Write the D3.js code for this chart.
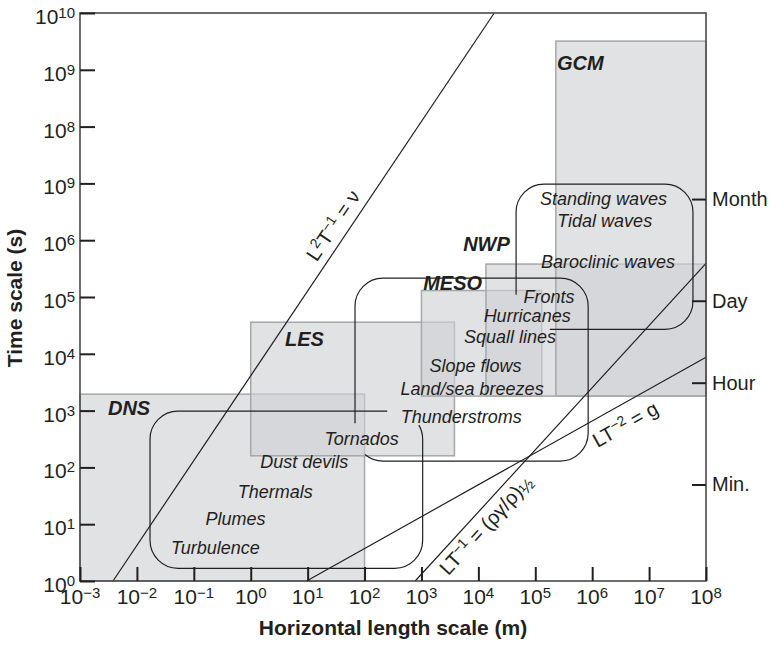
<!DOCTYPE html>
<html>
<head>
<meta charset="utf-8">
<script src="https://cdn.jsdelivr.net/npm/d3@7"></script>
<style>
body { margin: 0; background: #fff; }
text { font-family: "Liberation Sans", Arial, Helvetica, sans-serif; fill: #231f20; }
</style>
</head>
<body>
<svg width="772" height="646"></svg>
<script>
var svg = d3.select('svg');

// ---- axis ticks ----
var xTickValues = [1e-3, 1e-2, 1e-1, 1e0, 1e1, 1e2, 1e3, 1e4, 1e5, 1e6, 1e7, 1e8];
var xTickLabels = ["\u22123", "\u22122", "\u22121", "0", "1", "2", "3", "4", "5", "6", "7", "8"];
var yTickValues = [1e0, 1e1, 1e2, 1e3, 1e4, 1e5, 1e6, 1e7, 1e8, 1e9, 1e10];
// as printed in the figure (the 10^7 tick reads 10^9)
var yTickLabels = ["0", "1", "2", "3", "4", "5", "6", "9", "8", "9", "10"];

// right hand time marks, seconds
var timeMarks = ["Month", "Day", "Hour", "Min."];
var timeMarkSeconds = [5.3e6, 8.6e4, 3.1e3, 50];

// model domains
var models = ["DNS", "LES", "MESO", "NWP", "GCM"];
var modelL = [[1e-3, 1e2], [1, 3.8e3], [1e3, 1.3e5], [1.36e4, 1e8], [2.3e5, 1e8]];
var modelT = [[1, 1.95e3], [160, 3.6e4], [1.8e3, 1.3e5], [1.8e3, 3.8e5], [1.8e3, 3.2e9]];
var modelLabelL = [0.0031, 4.0, 1070, 5400, 2.4e5];
var modelLabelT = [830, 1.38e4, 1.32e5, 6.5e5, 1e9];

// phenomena
var phenomena = ["Turbulence", "Plumes", "Thermals", "Dust devils", "Tornados", "Thunderstroms",
  "Land/sea breezes", "Slope flows", "Squall lines", "Hurricanes", "Fronts",
  "Baroclinic waves", "Tidal waves", "Standing waves"];
var phenL = [0.24, 0.54, 2.7, 8.7, 89, 5000, 7760, 8900, 3.6e4, 7.2e4, 1.74e5, 1.9e6, 1.66e6, 1.58e6];
var phenT = [2.95, 9.5, 29, 98, 245, 617, 1860, 4790, 1.55e4, 3.6e4, 7.9e4, 3.2e5, 1.7e6, 4.2e6];

// envelopes around phenomena (small, meso, large)
var envL = [[0.017, 1050], [68, 8.5e5], [4.6e4, 5.9e7]];
var envT = [[1.67, 980], [129, 2.15e5], [2.7e4, 9.7e6]];
var envOpenL = [250, null, 1.8e5];
var envOpenT = [null, 600, 1.1e5];

// scaling relations
var relStartL = [0.0038, 776, 9.6];
var relStartT = [1, 1, 1];
var relEndL = [1.9e4, 1e8, 1e8];
var relEndT = [1e10, 3.9e5, 8700];
var relLabelL = [29, 1.39e4, 3.9e6];
var relLabelT = [1.78e6, 9.5, 555];
var relLabels = [
  [["L", 0], ["2", 1], ["T", 0], ["\u22121", 1], [" = \u03bd", 0]],
  [["LT", 0], ["\u22121", 1], [" = (\u03c1\u03b3/\u03c1)", 0], ["\u00bd", 2]],
  [["LT", 0], ["\u22122", 1], [" = g", 0]]
];

var margin = {left: 80, right: 66, top: 13, bottom: 65};
var W = 772, H = 646;
var x = d3.scaleLog().domain([1e-3, 1e8]).range([margin.left, W - margin.right]);
var y = d3.scaleLog().domain([1, 1e10]).range([H - margin.bottom, margin.top]);

// grey model boxes
svg.selectAll('rect.model')
  .data(models)
  .enter()
  .append('rect')
  .attr('class', 'model')
  .attr('x', function(d, i){ return x(modelL[i][0]); })
  .attr('y', function(d, i){ return y(modelT[i][1]); })
  .attr('width', function(d, i){ return x(modelL[i][1]) - x(modelL[i][0]); })
  .attr('height', function(d, i){ return y(modelT[i][0]) - y(modelT[i][1]); })
  .attr('fill', '#cfd0d3')
  .attr('fill-opacity', 0.62)
  .attr('stroke', '#a6a7a9')
  .attr('stroke-width', 1.5);

// scaling lines
svg.selectAll('line.rel')
  .data(relLabels)
  .enter()
  .append('line')
  .attr('x1', function(d, i){ return x(relStartL[i]); })
  .attr('y1', function(d, i){ return y(relStartT[i]); })
  .attr('x2', function(d, i){ return x(relEndL[i]); })
  .attr('y2', function(d, i){ return y(relEndT[i]); })
  .attr('stroke', '#231f20')
  .attr('stroke-width', 1.2);

// envelopes
var r = 28;
function envPath(i) {
  var x0 = x(envL[i][0]), x1 = x(envL[i][1]);
  var y0 = y(envT[i][1]), y1 = y(envT[i][0]);
  var p = d3.path();
  if (i == 0) {
    p.moveTo(x(envOpenL[i]), y0);
    p.arcTo(x0, y0, x0, y0 + r, r);
    p.arcTo(x0, y1, x0 + r, y1, r);
    p.arcTo(x1, y1, x1, y1 - r, r);
    p.lineTo(x1, y0 + r);
    p.arc(x1 - r, y0 + r, r, 0, -Math.PI / 6, true);
  } else if (i == 1) {
    p.moveTo(x0, y(envOpenT[i]));
    p.arcTo(x0, y0, x0 + r, y0, r);
    p.arcTo(x1, y0, x1, y0 + r, r);
    p.arcTo(x1, y1, x1 - r, y1, r);
    p.lineTo(x0 + r, y1);
    p.arc(x0 + r, y1 - r, r, Math.PI / 2, Math.PI / 2 + 0.7, false);
  } else {
    p.moveTo(x0, y(envOpenT[i]));
    p.arcTo(x0, y0, x0 + r, y0, r);
    p.arcTo(x1, y0, x1, y0 + r, r);
    p.arcTo(x1, y1, x1 - r, y1, r);
    p.lineTo(x(envOpenL[i]), y1);
  }
  return p.toString();
}

svg.selectAll('path.env')
  .data(envL)
  .enter()
  .append('path')
  .attr('class', 'env')
  .attr('d', function(d, i){ return envPath(i); })
  .attr('fill', 'none')
  .attr('stroke', '#231f20')
  .attr('stroke-width', 1.2);

// model labels
svg.selectAll('text.model')
  .data(models)
  .enter()
  .append('text')
  .attr('x', function(d, i){ return x(modelLabelL[i]); })
  .attr('y', function(d, i){ return y(modelLabelT[i]); })
  .attr('font-size', 20)
  .attr('font-weight', 'bold')
  .attr('font-style', 'italic')
  .text(function(d){ return d; });

// phenomena labels
svg.selectAll('text.phen')
  .data(phenomena)
  .enter()
  .append('text')
  .attr('x', function(d, i){ return x(phenL[i]); })
  .attr('y', function(d, i){ return y(phenT[i]); })
  .attr('text-anchor', 'middle')
  .attr('font-size', 18)
  .attr('font-style', 'italic')
  .text(function(d){ return d; });

// pieces: 0 normal, 1 superscript, 2 lowered half
function addParts(t, parts, size, supSize, up) {
  var shift = 0;
  parts.forEach(function(p){
    var target = p[1] == 1 ? -up : (p[1] == 2 ? 3 : 0);
    t.append('tspan')
      .attr('dy', target - shift)
      .attr('font-size', p[1] == 0 ? size : (p[1] == 2 ? size - 3 : supSize))
      .text(p[0]);
    shift = target;
  });
}

relLabels.forEach(function(parts, i){
  var ang = Math.atan2(y(relEndT[i]) - y(relStartT[i]), x(relEndL[i]) - x(relStartL[i])) * 180 / Math.PI;
  var cx = x(relLabelL[i]), cy = y(relLabelT[i]);
  var t = svg.append('text')
    .attr('text-anchor', 'middle')
    .attr('transform', 'translate(' + cx + ',' + cy + ') rotate(' + ang + ') translate(0,6)')
    .attr('font-size', 20);
  addParts(t, parts, 20, 14, 7);
});

// frame
svg.append('rect')
  .attr('x', x(1e-3))
  .attr('y', y(1e10))
  .attr('width', x(1e8) - x(1e-3))
  .attr('height', y(1) - y(1e10))
  .attr('fill', 'none')
  .attr('stroke', '#4a4a4a')
  .attr('stroke-width', 1.6);

// inward ticks
var gx = svg.append('g')
  .attr('transform', 'translate(0,' + y(1) + ')')
  .call(d3.axisBottom(x).tickValues(xTickValues).tickSize(-14).tickFormat(''));
var gy = svg.append('g')
  .attr('transform', 'translate(' + x(1e-3) + ',0)')
  .call(d3.axisLeft(y).tickValues(yTickValues).tickSize(-15).tickFormat(''));
var gr = svg.append('g')
  .attr('transform', 'translate(' + x(1e8) + ',0)')
  .call(d3.axisRight(y).tickValues(timeMarkSeconds).tickSize(-14).tickFormat(''));
[gx, gy, gr].forEach(function(g){
  g.select('.domain').remove();
  g.selectAll('.tick line').attr('stroke', '#231f20').attr('stroke-width', 2);
});

// tick labels
xTickValues.forEach(function(v, i){
  var t = svg.append('text')
    .attr('x', x(v))
    .attr('y', y(1) + 23)
    .attr('text-anchor', 'middle')
    .attr('font-size', 21);
  addParts(t, [["10", 0], [xTickLabels[i], 1]], 21, 15, 6);
});
yTickValues.forEach(function(v, i){
  var t = svg.append('text')
    .attr('x', x(1e-3) - 5)
    .attr('y', y(v) + 11)
    .attr('text-anchor', 'end')
    .attr('font-size', 21);
  addParts(t, [["10", 0], [yTickLabels[i], 1]], 21, 15, 6);
});
timeMarks.forEach(function(m, i){
  svg.append('text')
    .attr('x', x(1e8) + 6)
    .attr('y', y(timeMarkSeconds[i]) + 7)
    .attr('font-size', 20)
    .text(m);
});

// axis titles
svg.append('text')
  .attr('x', (x(1e-3) + x(1e8)) / 2)
  .attr('y', 635)
  .attr('text-anchor', 'middle')
  .attr('font-size', 21)
  .attr('font-weight', 'bold')
  .text('Horizontal length scale (m)');
svg.append('text')
  .attr('transform', 'translate(22,' + ((y(1) + y(1e10)) / 2 + 1) + ') rotate(-90)')
  .attr('text-anchor', 'middle')
  .attr('font-size', 21)
  .attr('font-weight', 'bold')
  .text('Time scale (s)');
</script>
</body>
</html>
